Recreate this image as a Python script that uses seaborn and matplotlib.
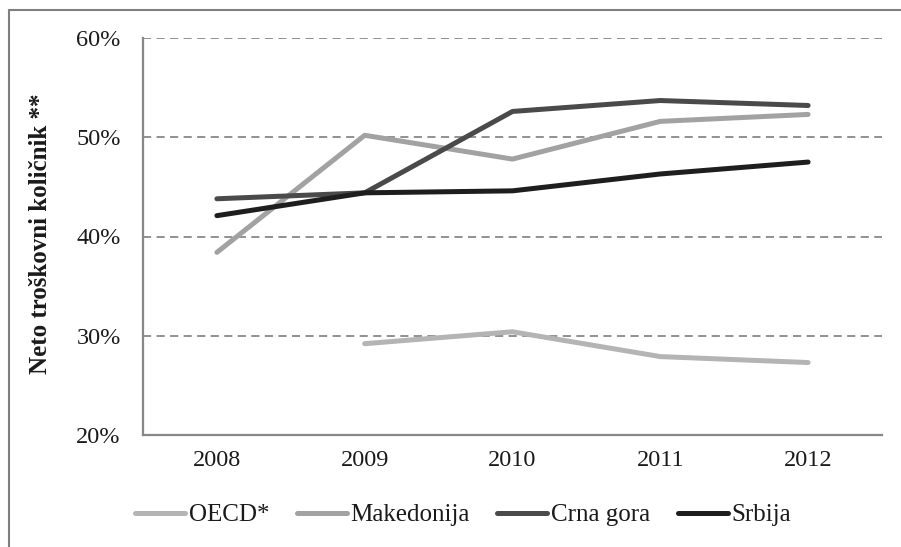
import numpy as np
import pandas as pd
import matplotlib
matplotlib.use("Agg")
import matplotlib.pyplot as plt
from matplotlib.lines import Line2D
import seaborn as sns
from matplotlib.ticker import FixedLocator, FuncFormatter

years = ["2008", "2009", "2010", "2011", "2012"]
oecd = [np.nan, 29.2, 30.4, 27.9, 27.3]
makedonija = [38.4, 50.2, 47.8, 51.6, 52.3]
crna_gora = [43.8, 44.4, 52.6, 53.7, 53.2]
srbija = [42.1, 44.4, 44.6, 46.3, 47.5]

series_names = ["OECD*", "Makedonija", "Crna gora", "Srbija"]
series_values = [oecd, makedonija, crna_gora, srbija]
colors = ["#b4b4b4", "#a2a2a2", "#4a4a4a", "#1e1e1e"]

rows = []
for name, vals in zip(series_names, series_values):
    for i, v in enumerate(vals):
        rows.append({"pos": i, "value": v, "series": name})
df = pd.DataFrame(rows).dropna()

sns.set_theme(style="white")
plt.rcParams["font.family"] = ["Liberation Serif", "DejaVu Serif"]

fig = plt.figure(figsize=(9.01, 5.47), dpi=100)
ax = fig.add_axes([143 / 901, 1 - 435 / 547, (882 - 143) / 901, (435 - 38) / 547])

sns.lineplot(data=df, x="pos", y="value", hue="series", hue_order=series_names,
             palette=colors, linewidth=3.6, ax=ax, legend=True)
for line in ax.get_lines():
    line.set_solid_capstyle("round")
    line.set_solid_joinstyle("round")

text_color = "#1a1a1a"
ax.set_xlim(-0.5, 4.5)
ax.set_ylim(20, 60)
ax.yaxis.set_major_locator(FixedLocator([20, 30, 40, 50, 60]))
ax.yaxis.set_major_formatter(FuncFormatter(lambda v, p: f"{v:.0f}%"))
ax.set_xticks(range(len(years)))
ax.set_xticklabels(years)
ax.set_xticks(np.arange(-0.5, 5.0, 1.0), minor=True)
ax.tick_params(axis="x", which="major", length=0, pad=11, labelsize=17.5, labelcolor=text_color)
ax.tick_params(axis="x", which="minor", length=6, width=1.3, color="#888888", direction="out")
ax.tick_params(axis="y", which="major", length=6, width=1.3, color="#888888", direction="out",
               labelsize=17.5, pad=10, labelcolor=text_color)

ax.grid(axis="y", linestyle=(0, (4.5, 3)), color="#888888", linewidth=1.3)
ax.grid(axis="x", visible=False)
for s in ["top", "right"]:
    ax.spines[s].set_visible(False)
for s in ["left", "bottom"]:
    ax.spines[s].set_color("#888888")
    ax.spines[s].set_linewidth(1.6)

ax.set_xlabel("")
ax.set_ylabel("Neto troškovni količnik **", fontsize=18, fontweight="bold", color=text_color)
ax.yaxis.set_label_coords(52 / 901, 1 - 234 / 547, transform=fig.transFigure)

leg = ax.legend(loc="center", bbox_to_anchor=(463 / 901, 1 - 515 / 547),
                bbox_transform=fig.transFigure, ncol=4, frameon=False, fontsize=18,
                handlelength=2.0, handletextpad=0.15, columnspacing=1.1,
                borderpad=0, borderaxespad=0)
for h in leg.get_lines():
    h.set_linewidth(3.6)
    h.set_solid_capstyle("round")
for t in leg.get_texts():
    t.set_color(text_color)

# frame edges around the chart area (left and top only)
fig.add_artist(Line2D([8.5 / 901, 8.5 / 901], [0, 1 - 9.5 / 547], transform=fig.transFigure,
                      color="#808080", linewidth=1.5))
fig.add_artist(Line2D([8.5 / 901, 1], [1 - 9.5 / 547, 1 - 9.5 / 547], transform=fig.transFigure,
                      color="#808080", linewidth=1.5))

fig.savefig("out.png", dpi=100)
